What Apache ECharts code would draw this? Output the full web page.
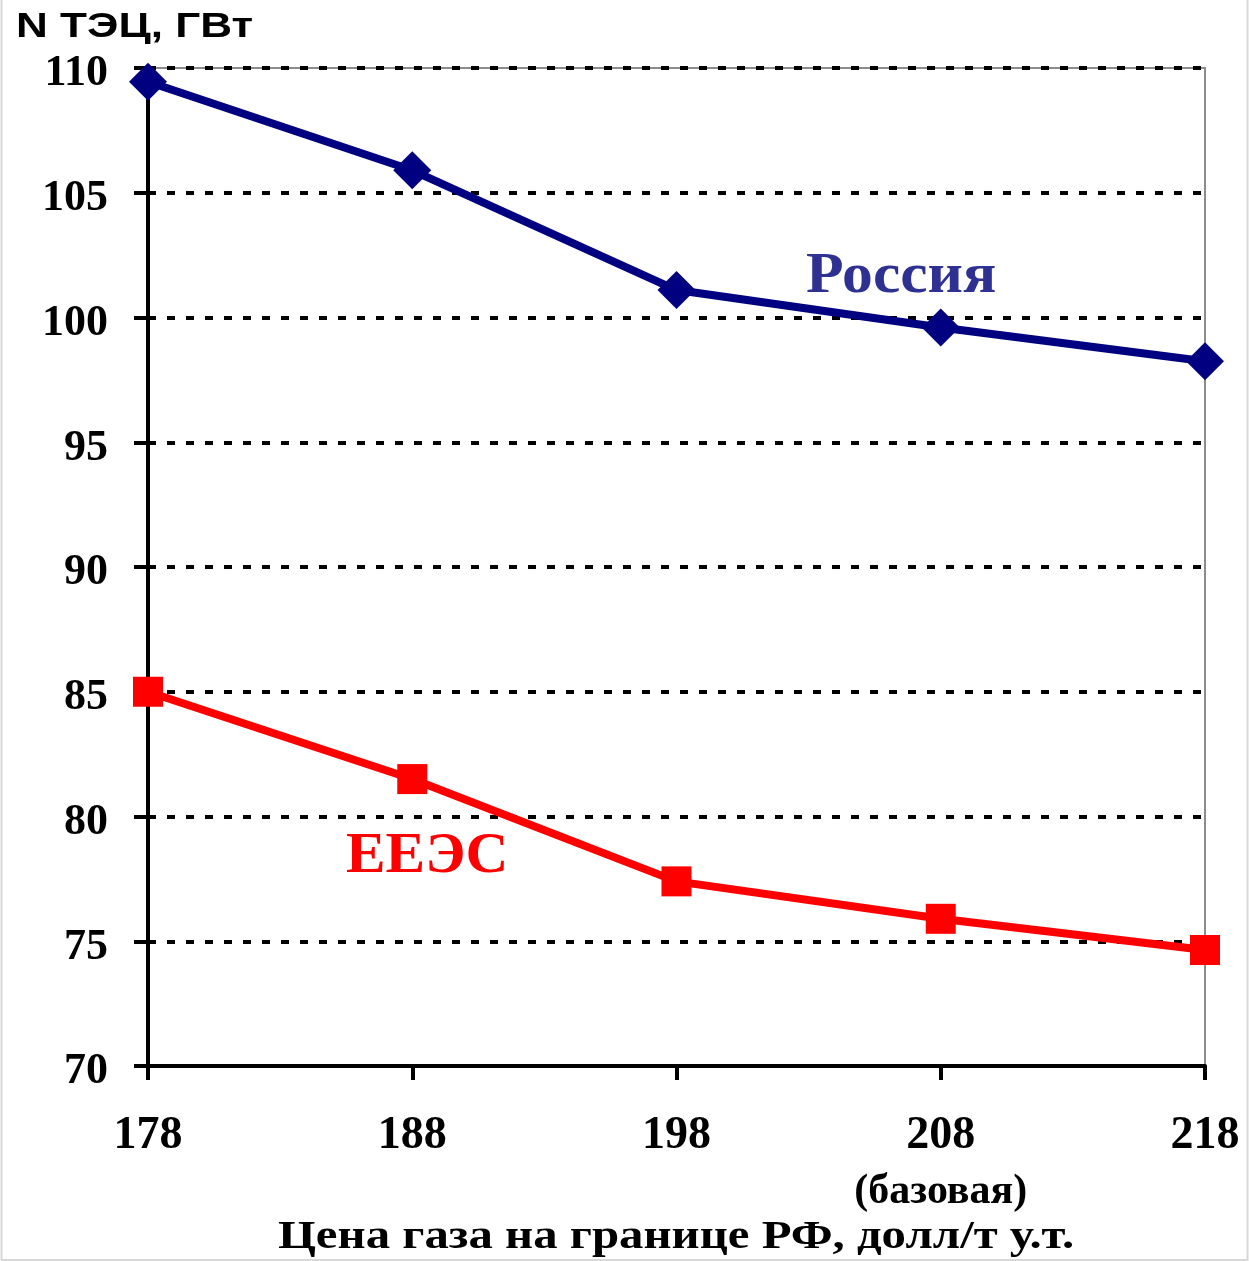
<!DOCTYPE html>
<html><head><meta charset="utf-8">
<script src="https://cdn.jsdelivr.net/npm/echarts@6/dist/echarts.min.js"></script>
<style>html,body{margin:0;padding:0;background:#fff}#c{width:1249px;height:1261px}</style>
</head><body><div id="c"></div>
<script>
const prices = [178, 188, 198, 208, 218];
const priceNotes = {208: '(базовая)'};
const russia = [109.45, 105.9, 101.1, 99.6, 98.25];
const eees = [85.0, 81.5, 77.4, 75.9, 74.65];
const yMin = 70, yMax = 110, yStep = 5;
const seriesNames = ['Россия', 'ЕЕЭС'];
const yTitle = 'N ТЭЦ, ГВт';
const xTitle = 'Цена газа на границе РФ, долл/т у.т.';

const serif = '"Liberation Serif", "Times New Roman", serif';
const chart = echarts.init(document.getElementById('c'), null, {renderer: 'canvas'});
const pairs = vals => prices.map((p, i) => [p, vals[i]]);

chart.setOption({
  animation: false,
  backgroundColor: '#fff',
  grid: {left: 148, right: 44, top: 68, bottom: 195, show: true, borderColor: '#8c8c8c', borderWidth: 2, backgroundColor: 'transparent'},
  xAxis: {
    type: 'value', min: prices[0], max: prices[prices.length - 1], interval: 10,
    axisLine: {show: true, lineStyle: {color: '#000', width: 4}},
    axisTick: {show: true, length: 14, lineStyle: {color: '#000', width: 4}},
    splitLine: {show: false},
    axisLabel: {
      margin: 42, fontFamily: serif, fontWeight: 'bold', fontSize: 46, color: '#000',
      formatter: v => priceNotes[v] ? '{a|' + v + '}\n{b|' + priceNotes[v] + '}' : '{a|' + v + '}',
      rich: {
        a: {fontFamily: serif, fontWeight: 'bold', fontSize: 46, color: '#000', lineHeight: 56},
        b: {fontFamily: serif, fontWeight: 'bold', fontSize: 42, color: '#000', lineHeight: 56}
      }
    }
  },
  yAxis: {
    type: 'value', min: yMin, max: yMax, interval: yStep,
    axisLine: {show: true, lineStyle: {color: '#000', width: 4}},
    axisTick: {show: true, length: 14, lineStyle: {color: '#000', width: 4}},
    splitLine: {show: true, lineStyle: {color: '#000', width: 4, type: [8, 11]}},
    axisLabel: {
      margin: 40, fontFamily: serif, fontWeight: 'bold', fontSize: 44, color: '#000',
      formatter: v => '{v|' + v + '}',
      rich: {v: {fontFamily: serif, fontWeight: 'bold', fontSize: 44, color: '#000', padding: [12, 0, 0, 0]}}
    }
  },
  series: [
    {name: seriesNames[0], type: 'line', data: pairs(russia), symbol: 'diamond', symbolSize: 38,
     lineStyle: {color: '#000080', width: 8}, itemStyle: {color: '#000080'}, z: 5},
    {name: seriesNames[1], type: 'line', data: pairs(eees), symbol: 'rect', symbolSize: 30,
     lineStyle: {color: '#ff0000', width: 8}, itemStyle: {color: '#ff0000'}, z: 5}
  ],
  graphic: [
    {type: 'rect', shape: {x: 1.5, y: -2, width: 1246, height: 1262}, style: {fill: 'none', stroke: '#d8d8d8', lineWidth: 2}, silent: true},
    {type: 'text', x: 16, y: 10, scaleX: 1.26, style: {text: yTitle, fontFamily: '"Liberation Sans", Arial, sans-serif', fontWeight: 'bold', fontSize: 35, fill: '#000'}},
    {type: 'text', x: 806, y: 250, scaleX: 1.1, style: {text: seriesNames[0], fontFamily: serif, fontWeight: 'bold', fontSize: 56, fill: '#2e3192'}},
    {type: 'text', x: 346, y: 830, scaleX: 1.06, style: {text: seriesNames[1], fontFamily: serif, fontWeight: 'bold', fontSize: 56, fill: '#ff0000'}},
    {type: 'text', x: 676, y: 1238, scaleX: 1.22, style: {text: xTitle, fontFamily: serif, fontWeight: 'bold', fontSize: 40, fill: '#000', align: 'center', verticalAlign: 'middle'}}
  ]
});
</script></body></html>
